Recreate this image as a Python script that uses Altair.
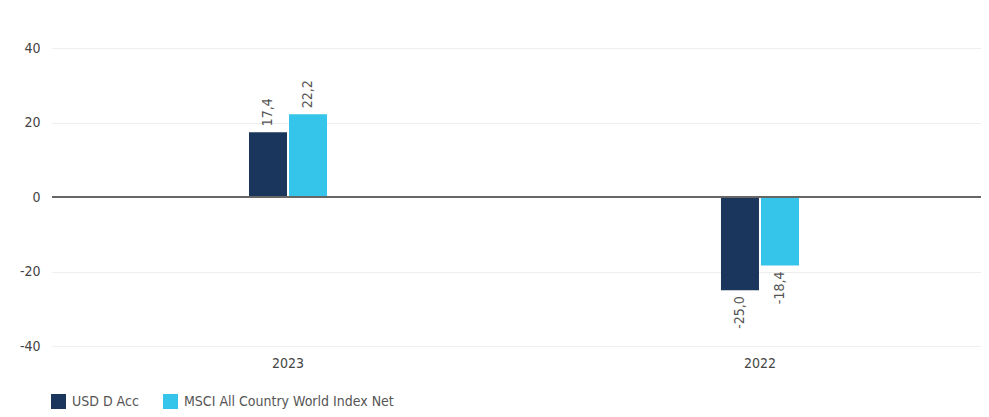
import altair as alt
import pandas as pd

years = ["2023", "2022"]
series = ["USD D Acc", "MSCI All Country World Index Net"]
usd_vals = [17.4, -25.0]
msci_vals = [22.2, -18.4]
colors = ["#1b365d", "#35c5ea"]

rows = []
for i, y in enumerate(years):
    for s, vals in zip(series, [usd_vals, msci_vals]):
        v = vals[i]
        rows.append({"year": y, "series": s, "value": v,
                     "label": f"{v:.1f}".replace(".", ",")})
df = pd.DataFrame(rows)

FONT = "DejaVu Sans Condensed, Roboto, sans-serif"

x_enc = alt.X("year:N", sort=years, title=None,
              scale=alt.Scale(range=[0, 944], paddingInner=0.8347, paddingOuter=0.4174),
              axis=alt.Axis(labelAngle=0, domain=False, ticks=False, labelPadding=10,
                            labelFontSize=14, labelColor="#444", labelFont=FONT))
xoff = alt.XOffset("series:N", sort=series, scale=alt.Scale(paddingInner=0.05))

bars = alt.Chart(df).mark_bar().encode(
    x=x_enc,
    xOffset=xoff,
    y=alt.Y("value:Q", title=None,
            scale=alt.Scale(domain=[-40, 40], nice=False),
            axis=alt.Axis(values=[-40, -20, 0, 20, 40], domain=False, ticks=False,
                          labelPadding=12, labelFontSize=14, labelColor="#444",
                          labelExpr="'' + datum.value",
                          labelFont=FONT, gridColor="#eeeeee", gridWidth=1)),
    color=alt.Color("series:N", sort=series,
                    scale=alt.Scale(domain=series, range=colors),
                    legend=alt.Legend(title=None, orient="none", direction="horizontal",
                                      legendX=-1, legendY=346, symbolType="square",
                                      symbolSize=225, symbolStrokeWidth=0,
                                      labelFontSize=14, labelColor="#555", labelLimit=0,
                                      labelFont=FONT, columnPadding=24,
                                      symbolOffset=0, labelOffset=6)),
)

pos = alt.Chart(df).transform_filter("datum.value >= 0").mark_text(
    angle=270, align="left", baseline="middle", dx=6, fontSize=14,
    color="#555", font=FONT
).encode(x=alt.X("year:N", sort=years), xOffset=xoff, y="value:Q", text="label:N")

neg = alt.Chart(df).transform_filter("datum.value < 0").mark_text(
    angle=270, align="right", baseline="middle", dx=-6, fontSize=14,
    color="#555", font=FONT
).encode(x=alt.X("year:N", sort=years), xOffset=xoff, y="value:Q", text="label:N")

zero = alt.Chart(df).mark_rule(color="#666", strokeWidth=1.5).encode(y=alt.datum(0))

chart = alt.layer(bars, zero, pos, neg).properties(
    width=929, height=298,
    autosize=alt.AutoSizeParams(type="none"),
    padding={"left": 44, "top": 40, "right": 0, "bottom": 63},
).configure_view(stroke=None)

chart.save("out.html", embed_options={"renderer": "svg", "actions": False})
